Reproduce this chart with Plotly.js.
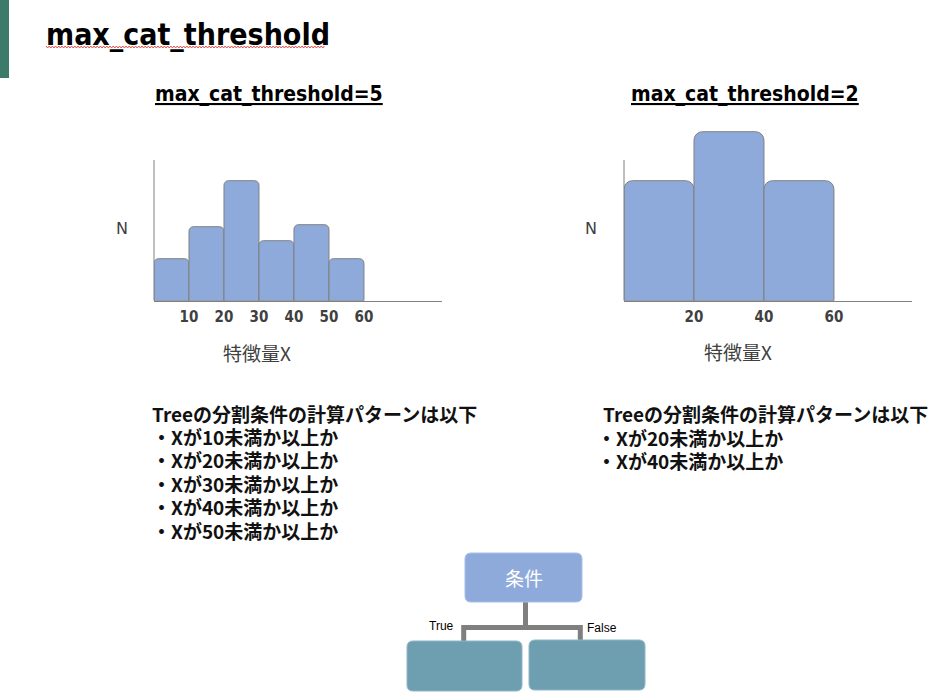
<!DOCTYPE html>
<html><head><meta charset="utf-8">
<script src="https://cdn.plot.ly/plotly-3.0.1.min.js"></script>
<style>html,body{margin:0;padding:0;background:#fff}#chart{width:950px;height:700px}</style>
</head><body><div id="chart"></div>
<script>
// ---- data ----
const binCentersLeft = [5, 15, 25, 35, 45, 55];
const binWidthLeft = 10;
const countsLeft = [42, 74, 120, 60, 76, 42];
const tickValsLeft = [10, 20, 30, 40, 50, 60];

const binCentersRight = [10, 30, 50];
const binWidthRight = 20;
const countsRight = [120, 169, 120];
const tickValsRight = [20, 40, 60];

const splitsLeft = [10, 20, 30, 40, 50];
const splitsRight = [20, 40];

const mainTitle = 'max_cat_threshold';
const subTitleLeft = 'max_cat_threshold=5';
const subTitleRight = 'max_cat_threshold=2';
const yLabel = 'N';
const xLabel = '特徴量X';
const listHead = 'Treeの分割条件の計算パターンは以下';
const nodeLabel = '条件';
const trueLabel = 'True';
const falseLabel = 'False';

// ---- helpers (page pixels -> paper) ----
const W = 950, H = 700;
const px = x => x / W;
const py = y => 1 - y / H;
function rr(x0, y0, x1, y1, r) {
  const P = (x, y) => px(x) + ',' + py(y);
  return 'M' + P(x0 + r, y0) + ' L' + P(x1 - r, y0) + ' Q' + P(x1, y0) + ' ' + P(x1, y0 + r) +
    ' L' + P(x1, y1 - r) + ' Q' + P(x1, y1) + ' ' + P(x1 - r, y1) +
    ' L' + P(x0 + r, y1) + ' Q' + P(x0, y1) + ' ' + P(x0, y1 - r) +
    ' L' + P(x0, y0 + r) + ' Q' + P(x0, y0) + ' ' + P(x0 + r, y0) + ' Z';
}
function poly(pts) {
  return pts.map((p, i) => (i ? 'L' : 'M') + px(p[0]) + ',' + py(p[1])).join(' ');
}

const barFill = '#8eaadb';
const barLine = '#7f7f7f';
const axisGray = '#808080';
const labelGray = '#404040';
const cjk = '"Noto Sans CJK JP", "Noto Sans", sans-serif';
const latinBold = '"DejaVu Sans Condensed", "DejaVu Sans", sans-serif';

const traces = [
  {
    type: 'bar', x: binCentersLeft, y: countsLeft, width: binWidthLeft,
    xaxis: 'x', yaxis: 'y',
    marker: { color: barFill, line: { color: barLine, width: 1 }, cornerradius: 5 },
    hoverinfo: 'skip', showlegend: false
  },
  {
    type: 'bar', x: binCentersRight, y: countsRight, width: binWidthRight,
    xaxis: 'x2', yaxis: 'y2',
    marker: { color: barFill, line: { color: barLine, width: 1 }, cornerradius: 9 },
    hoverinfo: 'skip', showlegend: false
  }
];

const yDom = [py(300.7), py(128)];
const yRange = [0, 172.7];
const axisTop = 140.7;

function xAxis(dom, ticks) {
  return {
    domain: dom, range: [0, 82.3], showgrid: false, zeroline: false,
    showline: true, linecolor: axisGray, linewidth: 1,
    tickmode: 'array', tickvals: ticks, ticks: '', fixedrange: true,
    ticklabelstandoff: 2,
    tickfont: { family: latinBold, size: 15, color: labelGray, weight: 'bold' }
  };
}
function yAxis(dom, anchor) {
  return {
    domain: dom, range: yRange, showgrid: false, zeroline: false, showline: false,
    showticklabels: false, ticks: '', anchor: anchor, fixedrange: true
  };
}

// wavy spell-check underline
const wave = [];
for (let x = 46, i = 0; x <= 326; x += 1.6, i++) wave.push([x, 47 + (i % 2 ? 1 : -1)]);

const shapes = [
  // side accent bar
  { type: 'rect', xref: 'paper', yref: 'paper', x0: 0, x1: px(9), y0: py(78), y1: py(0),
    fillcolor: '#3c7a6a', line: { width: 0 } },
  { type: 'path', xref: 'paper', yref: 'paper', path: poly(wave),
    line: { color: '#e0504a', width: 1 }, fillcolor: 'rgba(0,0,0,0)' },
  // y-axis lines
  { type: 'line', xref: 'x domain', yref: 'y', x0: 0, x1: 0, y0: 0, y1: axisTop,
    line: { color: axisGray, width: 1 } },
  { type: 'line', xref: 'x2 domain', yref: 'y2', x0: 0, x1: 0, y0: 0, y1: axisTop,
    line: { color: axisGray, width: 1 } },
  // tree diagram
  { type: 'path', xref: 'paper', yref: 'paper', path: poly([[525.5, 602], [525.5, 627.5]]),
    line: { color: '#7f7f7f', width: 5 }, fillcolor: 'rgba(0,0,0,0)' },
  { type: 'path', xref: 'paper', yref: 'paper',
    path: poly([[463.7, 641], [463.7, 627.5], [580.3, 627.5], [580.3, 641]]),
    line: { color: '#7f7f7f', width: 5 }, fillcolor: 'rgba(0,0,0,0)' },
  { type: 'path', xref: 'paper', yref: 'paper', path: rr(465, 553, 582, 602, 6),
    fillcolor: barFill, line: { color: '#a9bfe6', width: 1 } },
  { type: 'path', xref: 'paper', yref: 'paper', path: rr(407, 641, 522, 691, 6),
    fillcolor: '#6e9fb1', line: { color: '#8fb6c4', width: 1 } },
  { type: 'path', xref: 'paper', yref: 'paper', path: rr(529, 640, 645, 690, 6),
    fillcolor: '#6e9fb1', line: { color: '#8fb6c4', width: 1 } }
];

function ann(text, x, y, opts) {
  return Object.assign({ text: text, xref: 'paper', yref: 'paper', x: px(x), y: py(y),
    showarrow: false, xanchor: 'left', yanchor: 'middle' }, opts);
}

const listFont = { family: cjk, size: 19, color: '#111', weight: 'bold' };
const lineStep = 23.4;

const annotations = [
  ann('<b>' + mainTitle + '</b>', 44, 34,
    { font: { family: latinBold, size: 30, color: '#000' } }),
  ann('<u>' + subTitleLeft + '</u>', 269, 94,
    { xanchor: 'center', font: { family: latinBold, size: 21, color: '#000', weight: 'bold' } }),
  ann('<u>' + subTitleRight + '</u>', 744.5, 94,
    { xanchor: 'center', font: { family: latinBold, size: 21, color: '#000', weight: 'bold' } }),
  ann(yLabel, 122, 228, { xanchor: 'center', font: { family: '"DejaVu Sans", sans-serif', size: 16, color: labelGray } }),
  ann(yLabel, 591, 228, { xanchor: 'center', font: { family: '"DejaVu Sans", sans-serif', size: 16, color: labelGray } }),
  ann(xLabel, 257, 352, { xanchor: 'center', font: { family: cjk, size: 19, color: labelGray } }),
  ann(xLabel, 738, 351, { xanchor: 'center', font: { family: cjk, size: 19, color: labelGray } }),
  ann(listHead, 150, 413, { font: listFont }),
  ann(listHead, 601, 413, { font: listFont }),
  ann(nodeLabel, 523.5, 577.5, { xanchor: 'center', font: { family: cjk, size: 19, color: '#fff' } }),
  ann(trueLabel, 441, 626, { xanchor: 'center', font: { family: '"Liberation Sans", Arial, sans-serif', size: 12, color: '#000' } }),
  ann(falseLabel, 602, 628, { xanchor: 'center', font: { family: '"Liberation Sans", Arial, sans-serif', size: 12, color: '#000' } })
];
splitsLeft.forEach((v, i) => annotations.push(
  ann('・Xが' + v + '未満か以上か', 150, 413 + lineStep * (i + 1), { font: listFont })));
splitsRight.forEach((v, i) => annotations.push(
  ann('・Xが' + v + '未満か以上か', 595, 414 + lineStep * (i + 1), { font: listFont })));

const layout = {
  width: W, height: H, margin: { l: 0, r: 0, t: 0, b: 0 },
  paper_bgcolor: '#fff', plot_bgcolor: 'rgba(0,0,0,0)',
  bargap: 0, showlegend: false,
  xaxis: Object.assign(xAxis([px(154), px(442)], tickValsLeft), { anchor: 'y' }),
  yaxis: yAxis(yDom, 'x'),
  xaxis2: Object.assign(xAxis([px(624), px(912)], tickValsRight), { anchor: 'y2' }),
  yaxis2: yAxis(yDom, 'x2'),
  shapes: shapes, annotations: annotations
};

Plotly.newPlot('chart', traces, layout, { staticPlot: true, displayModeBar: false });
</script></body></html>
